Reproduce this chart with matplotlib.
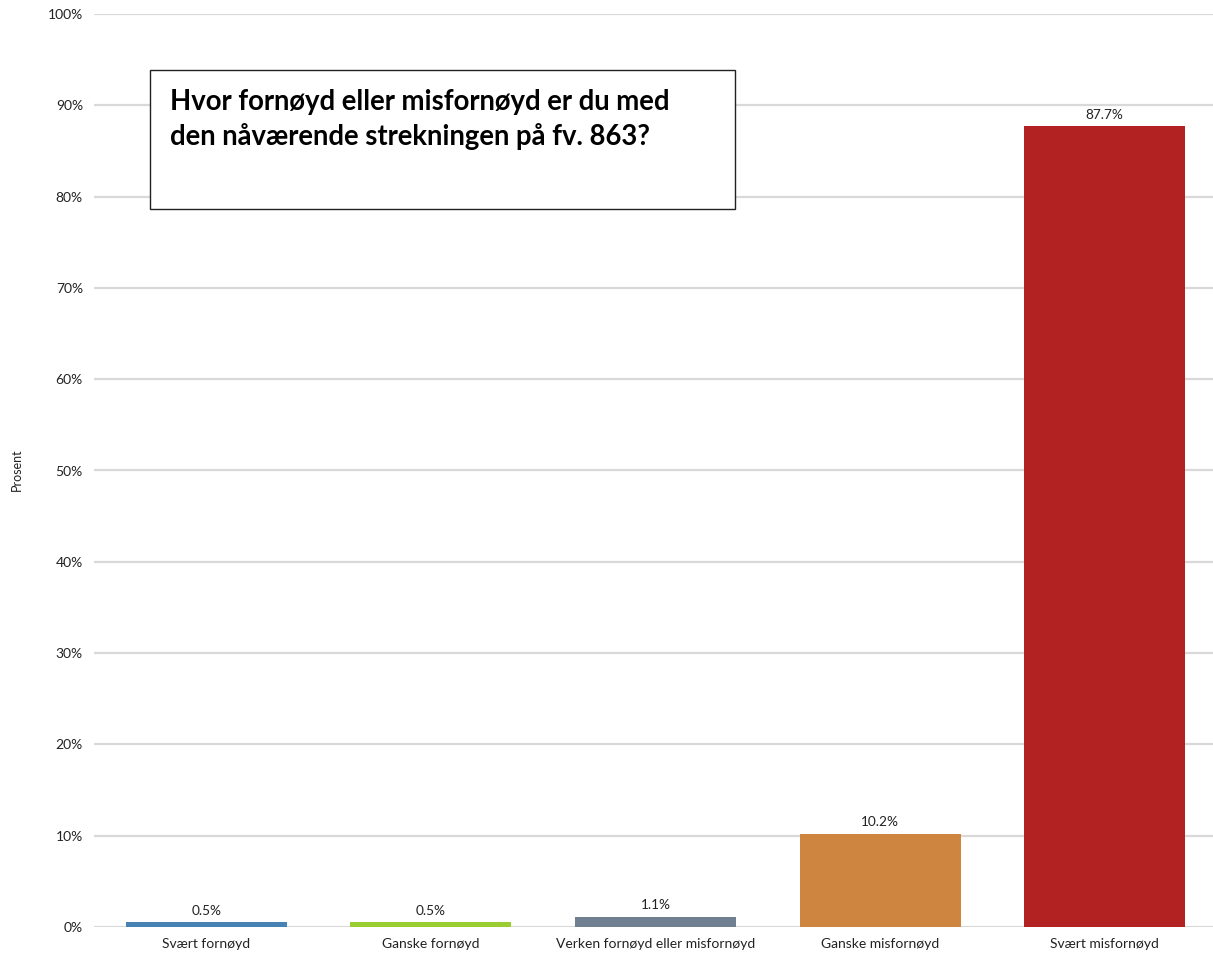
import matplotlib
matplotlib.use("Agg")
import matplotlib.pyplot as plt
from matplotlib.patches import Rectangle
from matplotlib.ticker import MultipleLocator, FuncFormatter

categories = ["Svært fornøyd", "Ganske fornøyd", "Verken fornøyd eller misfornøyd",
              "Ganske misfornøyd", "Svært misfornøyd"]
values = [0.5, 0.5, 1.1, 10.2, 87.7]
colors = ["steelblue", "yellowgreen", "slategray", "peru", "firebrick"]
title = "Hvor fornøyd eller misfornøyd er du med\nden nåværende strekningen på fv. 863?"

plt.rcParams["font.family"] = ["Lato", "DejaVu Sans"]

W, H = 1213, 955
fig = plt.figure(figsize=(W / 100, H / 100), dpi=100)
ax = fig.add_axes([94 / W, (H - 927) / H, (1217 - 94) / W, (927 - 14) / H])

x = list(range(len(categories)))
bars = ax.bar(x, values, width=0.717, color=colors, zorder=3)
for b, v in zip(bars, values):
    ax.annotate(f"{v:.1f}%", (b.get_x() + b.get_width() / 2, v),
                xytext=(0, 4), textcoords="offset points",
                ha="center", va="bottom", fontsize=9.8, color="#222222")

ax.set_xlim(-0.5, len(categories) - 0.5)
ax.set_ylim(0, 100)
ax.yaxis.set_major_locator(MultipleLocator(10))
ax.yaxis.set_major_formatter(FuncFormatter(lambda v, p: f"{v:.0f}%"))
ax.set_xticks(x)
ax.set_xticklabels(categories)
ax.tick_params(axis="both", length=0, labelsize=10, colors="#222222")
ax.tick_params(axis="x", pad=8)
ax.tick_params(axis="y", pad=8)
ax.grid(axis="y", color="#d9d9d9", linewidth=1.6, zorder=0)
for s in ax.spines.values():
    s.set_visible(False)

fig.text(17 / W, 1 - 470 / H, "Prosent", rotation=90, ha="center", va="center",
         fontsize=9, color="#222222")

# question box
bx0, by0, bx1, by1 = 150, 70, 735, 209
fig.patches.append(Rectangle((bx0 / W, 1 - by1 / H), (bx1 - bx0) / W, (by1 - by0) / H,
                             transform=fig.transFigure, facecolor="white",
                             edgecolor="#222222", linewidth=1.0, zorder=5))
fig.text(170 / W, 1 - 89 / H, title, ha="left", va="top", fontsize=19.8,
         fontweight="bold", color="black", linespacing=1.38, zorder=6)

fig.savefig("out.png", dpi=100, facecolor="white")
